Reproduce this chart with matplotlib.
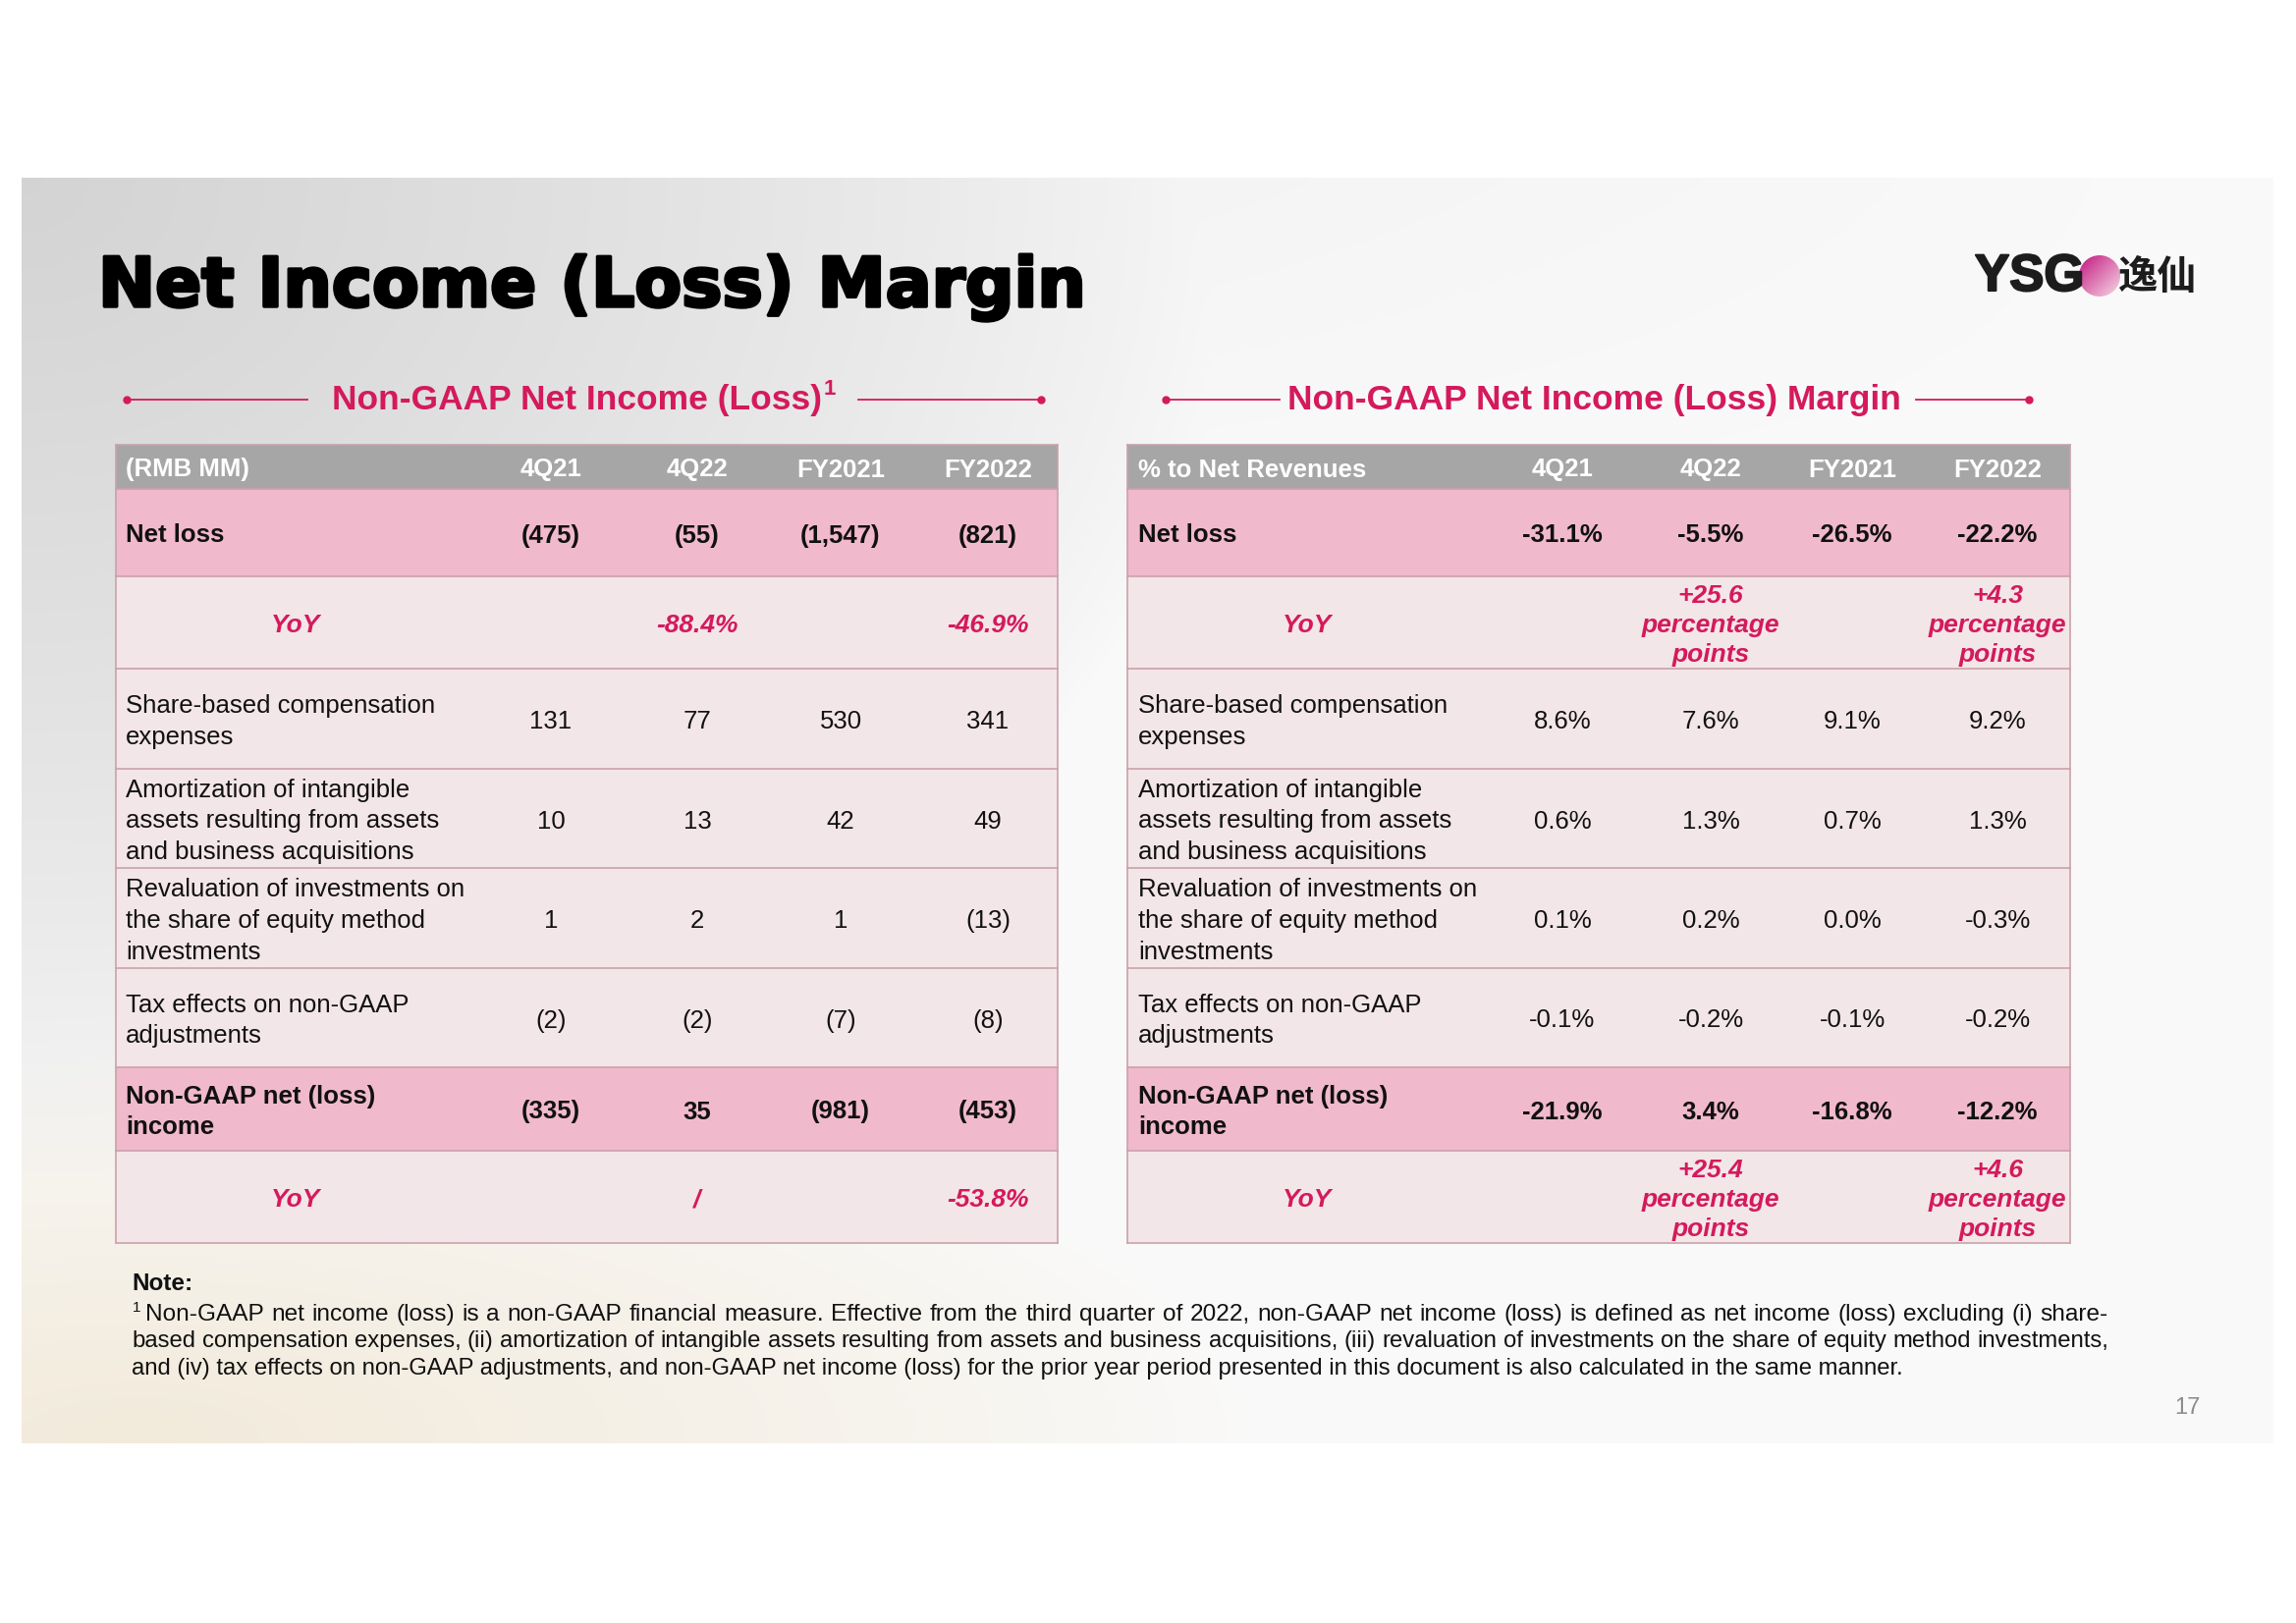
import numpy as np
import matplotlib
matplotlib.use('Agg')
import matplotlib.pyplot as plt
from matplotlib.patches import Rectangle, Circle
import matplotlib.patheffects as pe

plt.rcParams['font.family'] = ['Liberation Sans', 'DejaVu Sans']

# ---- data ----
periods = ['4Q21', '4Q22', 'FY2021', 'FY2022']
row_labels = ['Net loss',
              'YoY',
              'Share-based compensation\nexpenses',
              'Amortization of intangible\nassets resulting from assets\nand business acquisitions',
              'Revaluation of investments on\nthe share of equity method\ninvestments',
              'Tax effects on non-GAAP\nadjustments',
              'Non-GAAP net (loss)\nincome',
              'YoY']
row_kind = ['total', 'yoy', 'item', 'item', 'item', 'item', 'total', 'yoy']

rmb_values = [
    ['(475)', '(55)', '(1,547)', '(821)'],
    ['', '-88.4%', '', '-46.9%'],
    ['131', '77', '530', '341'],
    ['10', '13', '42', '49'],
    ['1', '2', '1', '(13)'],
    ['(2)', '(2)', '(7)', '(8)'],
    ['(335)', '35', '(981)', '(453)'],
    ['', '/', '', '-53.8%'],
]
pct_values = [
    ['-31.1%', '-5.5%', '-26.5%', '-22.2%'],
    ['', '+25.6\npercentage\npoints', '', '+4.3\npercentage\npoints'],
    ['8.6%', '7.6%', '9.1%', '9.2%'],
    ['0.6%', '1.3%', '0.7%', '1.3%'],
    ['0.1%', '0.2%', '0.0%', '-0.3%'],
    ['-0.1%', '-0.2%', '-0.1%', '-0.2%'],
    ['-21.9%', '3.4%', '-16.8%', '-12.2%'],
    ['', '+25.4\npercentage\npoints', '', '+4.6\npercentage\npoints'],
]

note_lines = [
    'Non-GAAP net income (loss) is a non-GAAP financial measure. Effective from the third quarter of 2022, non-GAAP net income (loss) is defined as net income (loss) excluding (i) share-',
    'based compensation expenses, (ii) amortization of intangible assets resulting from assets and business acquisitions, (iii) revaluation of investments on the share of equity method investments,',
    'and (iv) tax effects on non-GAAP adjustments, and non-GAAP net income (loss) for the prior year period presented in this document is also calculated in the same manner.',
]

# ---- style ----
MAGENTA = '#d41a5c'
HEAD_GRAY = '#a6a6a6'
PINK = '#f1b9cc'
LIGHT = '#f3e6e8'
BORDER = '#c9a2aa'
W, H = 2338, 1653

fig = plt.figure(figsize=(W / 100, H / 100), dpi=100)
ax = fig.add_axes([0, 0, 1, 1])
ax.set_xlim(0, W)
ax.set_ylim(H, 0)
ax.axis('off')

# slide background: soft gray top-left, warm cream bottom-left
gh, gw = 130, 230
yy, xx = np.mgrid[0:1:gh * 1j, 0:1:gw * 1j]
img = np.ones((gh, gw, 3)) * 0.98
gray = np.array([0.83, 0.83, 0.83])
beige = np.array([0.95, 0.92, 0.86])
w1 = np.clip(1 - np.sqrt((xx / 0.55) ** 2 + (yy / 0.8) ** 2), 0, 1) ** 0.7
w3 = np.clip(1 - yy / 0.3, 0, 1) * np.clip(1 - xx, 0, 1) * 0.3
w2 = np.clip(1 - np.sqrt(((xx - 0.05) / 0.5) ** 2 + ((1 - yy) / 0.3) ** 2), 0, 1) ** 0.8
wg = np.maximum(w1, w3)
for c in range(3):
    img[..., c] = img[..., c] * (1 - wg) + gray[c] * wg
    img[..., c] = img[..., c] * (1 - w2) + beige[c] * w2
ax.imshow(img, extent=(22, 2315, 1470, 181), interpolation='bicubic', aspect='auto', zorder=0)

# title
ax.text(100, 312, 'Net Income (Loss) Margin', fontsize=50, fontweight='bold', color='black',
        va='baseline', ha='left', zorder=5, family='DejaVu Sans',
        path_effects=[pe.withStroke(linewidth=2.5, foreground='black')])

# logo
gx, gy = np.mgrid[0:1:60j, 0:1:60j]
grad = np.zeros((60, 60, 3))
t = np.clip((gx + gy) / 2, 0, 1)
c0 = np.array([0.76, 0.09, 0.50])
c1 = np.array([0.97, 0.85, 0.90])
for c in range(3):
    grad[..., c] = c0[c] * (1 - t) + c1[c] * t
circ = Circle((2138, 281), 21, transform=ax.transData)
im = ax.imshow(grad, extent=(2117, 2159, 302, 260), zorder=4, aspect='auto')
im.set_clip_path(circ)
ax.text(2011, 282, 'YSG', fontsize=38, fontweight='bold', color='#1c1c1c', va='center', ha='left', zorder=6,
        path_effects=[pe.withStroke(linewidth=1.5, foreground='#1c1c1c')])
ax.text(2156, 283, '逸仙', fontsize=29, fontweight='bold', color='#1c1c1c', va='center', ha='left',
        family=['Noto Sans CJK SC', 'DejaVu Sans'], zorder=6)


def heading(text, tx, y, l0, l1, r0, r1):
    h = ax.text(tx, y, text, fontsize=25.5, fontweight='bold', color=MAGENTA, va='center', ha='left', zorder=5)
    ax.plot([l0, l1], [y, y], color=MAGENTA, lw=1.3, zorder=5)
    ax.plot([r0, r1], [y, y], color=MAGENTA, lw=1.3, zorder=5)
    ax.plot([l0, r1], [y, y], 'o', color=MAGENTA, ms=5, zorder=5, lw=0)
    return h


h1 = heading('Non-GAAP Net Income (Loss)', 338, 407, 129, 313, 874, 1060)
heading('Non-GAAP Net Income (Loss) Margin', 1311, 407, 1187, 1303, 1951, 2066)
fig.canvas.draw()
renderer = fig.canvas.get_renderer()
bb = h1.get_window_extent(renderer)
ax.text(bb.x1 + 2, 396, '1', fontsize=16, fontweight='bold', color=MAGENTA, va='center', ha='left', zorder=5)

row_edges = [453, 498, 587, 681, 783, 884, 986, 1087, 1172, 1266]


def draw_table(x0, x1, label_x, yoy_x, col_x, corner, values):
    # header
    ax.add_patch(Rectangle((x0, row_edges[0]), x1 - x0, row_edges[1] - row_edges[0],
                           facecolor=HEAD_GRAY, edgecolor='none', zorder=1))
    hy = (row_edges[0] + row_edges[1]) / 2 + 3
    ax.text(label_x, hy, corner, fontsize=18.5, fontweight='bold', color='white', va='center', ha='left', zorder=3)
    for cx, p in zip(col_x, periods):
        ax.text(cx, hy, p, fontsize=18.5, fontweight='bold', color='white', va='center', ha='center', zorder=3)
    for i, (lab, kind) in enumerate(zip(row_labels, row_kind)):
        top, bot = row_edges[i + 1], row_edges[i + 2]
        cy = (top + bot) / 2 + 3
        fill = PINK if kind == 'total' else LIGHT
        ax.add_patch(Rectangle((x0, top), x1 - x0, bot - top, facecolor=fill, edgecolor='none', zorder=1))
        if kind == 'yoy':
            kw = dict(fontsize=19, fontweight='bold', style='italic', color=MAGENTA)
            ax.text(yoy_x, cy, lab, va='center', ha='center', zorder=3, **kw)
        else:
            kw = dict(fontsize=18.5, fontweight='bold' if kind == 'total' else 'normal', color='#111111')
            ax.text(label_x, cy, lab, va='center', ha='left', linespacing=1.4, zorder=3, **kw)
        for cx, v in zip(col_x, values[i]):
            ax.text(cx, cy, v, va='center', ha='center', linespacing=1.33, zorder=3, **kw)
    # row borders
    for e in row_edges:
        ax.plot([x0, x1], [e, e], color=BORDER, lw=1.2, zorder=2)
    for xe in (x0, x1):
        ax.plot([xe, xe], [row_edges[0], row_edges[-1]], color=BORDER, lw=1.2, zorder=2)


draw_table(118, 1077, 128, 301, [561, 710, 856, 1006], '(RMB MM)', rmb_values)
draw_table(1148, 2108, 1159, 1331, [1591, 1742, 1886, 2034], '% to Net Revenues', pct_values)


def justified(line, x0, x1, y, size):
    # spread the words of one footnote line between x0 and x1
    words = line.split(' ')
    arts = [ax.text(0, y, w, fontsize=size, color='#111111', va='center', ha='left', zorder=3) for w in words]
    widths = [a.get_window_extent(renderer).width for a in arts]
    gap = (x1 - x0 - sum(widths)) / (len(words) - 1)
    x = x0
    for a, wd in zip(arts, widths):
        a.set_x(x)
        x += wd + gap


# footnote
NOTE_SIZE = 17.2
ax.text(134, 1308, 'Note:', fontsize=17.5, fontweight='bold', color='#111111', va='center', ha='left', zorder=3)
ax.text(135, 1332, '1', fontsize=11, color='#111111', va='center', ha='left', zorder=3)
justified(note_lines[0], 148, 2147, 1339, 17.6)
justified(note_lines[1], 134, 2147, 1366, NOTE_SIZE)
ax.text(134, 1394, note_lines[2], fontsize=NOTE_SIZE, color='#111111', va='center', ha='left', zorder=3)

# page number
ax.text(2227, 1434, '17', fontsize=17, color='#8c8c8c', va='center', ha='center', zorder=3)

fig.savefig('out.png', dpi=100)
